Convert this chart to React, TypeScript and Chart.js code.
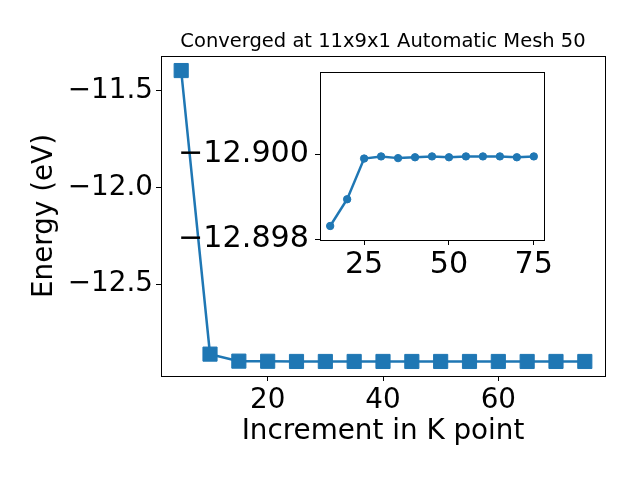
import React, { useEffect, useRef } from "react";
import { Chart, registerables } from "chart.js";

Chart.register(...registerables);

// ---- data ----
const kPoints = [5, 10, 15, 20, 25, 30, 35, 40, 45, 50, 55, 60, 65, 70, 75];
const energies = [
  -11.396, -12.862, -12.89831, -12.89894, -12.8999, -12.89995, -12.89991,
  -12.89993, -12.89995, -12.89993, -12.89995, -12.89995, -12.89995, -12.89993,
  -12.89995,
];
const insetKPoints = [15, 20, 25, 30, 35, 40, 45, 50, 55, 60, 65, 70, 75];
const insetEnergies = [
  -12.89831, -12.89894, -12.8999, -12.89995, -12.89991, -12.89993, -12.89995,
  -12.89993, -12.89995, -12.89995, -12.89995, -12.89993, -12.89995,
];
const mainXTicks = [20, 40, 60];
const mainYTicks = [-11.5, -12.0, -12.5];
const insetXTicks = [25, 50, 75];
const insetYTicks = [-12.9, -12.898];

const titleText = "Converged at 11x9x1 Automatic Mesh 50";
const xLabel = "Increment in K point";
const yLabel = "Energy (eV)";

const BLUE = "#1f77b4";
const FONT = "'DejaVu Sans', sans-serif";
const minus = (s: string) => s.replace("-", "\u2212");

const framePlugin = {
  id: "frame",
  beforeDatasetsDraw(chart: any) {
    const { ctx, chartArea: a } = chart;
    ctx.save();
    ctx.strokeStyle = "#000";
    ctx.lineWidth = 1;
    const l = Math.round(a.left) + 0.5;
    const r = Math.round(a.right) + 0.5;
    const t = Math.round(a.top) + 0.5;
    const b = Math.round(a.bottom) + 0.5;
    ctx.strokeRect(l, t, r - l, b - t);
    ctx.restore();
  },
};

const whitePlugin = {
  id: "whiteArea",
  beforeDraw(chart: any) {
    const { ctx, chartArea: a } = chart;
    ctx.save();
    ctx.fillStyle = "#fff";
    ctx.fillRect(a.left, a.top, a.right - a.left, a.bottom - a.top);
    ctx.restore();
  },
};

export default function App() {
  const mainRef = useRef<HTMLCanvasElement>(null);
  const insetRef = useRef<HTMLCanvasElement>(null);

  useEffect(() => {
    const tickFont = { size: 27.8, family: FONT };
    const insetTickFont = { size: 30.2, family: FONT };
    const gridOpts = {
      display: true,
      drawOnChartArea: false,
      drawTicks: true,
      tickLength: 5,
      color: "#000",
      lineWidth: 1,
    };
    const main = new Chart(mainRef.current!, {
      type: "line",
      data: {
        datasets: [
          {
            data: kPoints.map((k, i) => ({ x: k, y: energies[i] })),
            borderColor: BLUE,
            backgroundColor: BLUE,
            borderWidth: 2.5,
            pointStyle: "rect",
            pointRadius: 10,
            pointBorderWidth: 1,
            tension: 0,
          },
        ],
      },
      options: {
        animation: false,
        responsive: false,
        layout: { padding: { left: 0, right: 35, top: 0, bottom: 0 } },
        plugins: {
          legend: { display: false },
          tooltip: { enabled: false },
          title: {
            display: true,
            text: titleText,
            fullSize: false,
            color: "#000",
            font: { size: 19.5, family: FONT, weight: "normal" },
            padding: { top: 30, bottom: 2.6 },
          },
        },
        scales: {
          x: {
            type: "linear",
            min: 1.5,
            max: 78.5,
            grid: gridOpts,
            border: { display: true, color: "#000", width: 1 },
            ticks: {
              font: tickFont,
              color: "#000",
              padding: 3,
              maxRotation: 0,
              autoSkip: false,
              callback: (v: any) => String(v),
            },
            title: {
              display: true,
              text: xLabel,
              color: "#000",
              font: { size: 27.8, family: FONT },
              padding: { top: 0, bottom: 32 },
            },
            afterBuildTicks: (s: any) => {
              s.ticks = mainXTicks.map((v) => ({ value: v }));
            },
            afterFit: (s: any) => {
              s.height = 104;
            },
          },
          y: {
            type: "linear",
            min: -12.9751,
            max: -11.3208,
            grid: gridOpts,
            border: { display: true, color: "#000", width: 1 },
            ticks: {
              font: tickFont,
              color: "#000",
              padding: 3,
              autoSkip: false,
              callback: (v: any) => minus(Number(v).toFixed(1)),
            },
            title: {
              display: true,
              text: yLabel,
              color: "#000",
              font: { size: 27.8, family: FONT },
              padding: { top: 28, bottom: 0 },
            },
            afterBuildTicks: (s: any) => {
              s.ticks = mainYTicks.map((v) => ({ value: v }));
            },
            afterFit: (s: any) => {
              s.width = 161;
            },
          },
        },
      },
      plugins: [framePlugin],
    });

    const inset = new Chart(insetRef.current!, {
      type: "line",
      data: {
        datasets: [
          {
            data: insetKPoints.map((k, i) => ({ x: k, y: insetEnergies[i] })),
            borderColor: BLUE,
            backgroundColor: BLUE,
            borderWidth: 2.5,
            pointStyle: "circle",
            pointRadius: 3.7,
            pointBorderWidth: 1,
            tension: 0,
          },
        ],
      },
      options: {
        animation: false,
        responsive: false,
        layout: { padding: { left: 0, right: 96, top: 72, bottom: 190 } },
        plugins: {
          legend: { display: false },
          tooltip: { enabled: false },
          title: { display: false },
        },
        scales: {
          x: {
            type: "linear",
            min: 12,
            max: 78,
            grid: gridOpts,
            border: { display: true, color: "#000", width: 1 },
            ticks: {
              font: insetTickFont,
              color: "#000",
              padding: 2,
              maxRotation: 0,
              autoSkip: false,
              callback: (v: any) => String(v),
            },
            afterBuildTicks: (s: any) => {
              s.ticks = insetXTicks.map((v) => ({ value: v }));
            },
            afterFit: (s: any) => {
              s.height = 50;
            },
          },
          y: {
            type: "linear",
            reverse: true,
            min: -12.90194,
            max: -12.89798,
            grid: gridOpts,
            border: { display: true, color: "#000", width: 1 },
            ticks: {
              font: insetTickFont,
              color: "#000",
              padding: 6,
              autoSkip: false,
              callback: (v: any) => minus(Number(v).toFixed(3)),
            },
            afterBuildTicks: (s: any) => {
              s.ticks = insetYTicks.map((v) => ({ value: v }));
            },
            afterFit: (s: any) => {
              s.width = 320;
            },
          },
        },
      },
      plugins: [whitePlugin, framePlugin],
    });

    return () => {
      main.destroy();
      inset.destroy();
    };
  }, []);

  return (
    <div
      style={{
        position: "absolute",
        left: 0,
        top: 0,
        width: 640,
        height: 480,
        background: "#fff",
      }}
    >
      <canvas
        ref={mainRef}
        width={640}
        height={480}
        style={{ position: "absolute", left: 0, top: 0 }}
      />
      <canvas
        ref={insetRef}
        width={640}
        height={480}
        style={{ position: "absolute", left: 0, top: 0 }}
      />
    </div>
  );
}
